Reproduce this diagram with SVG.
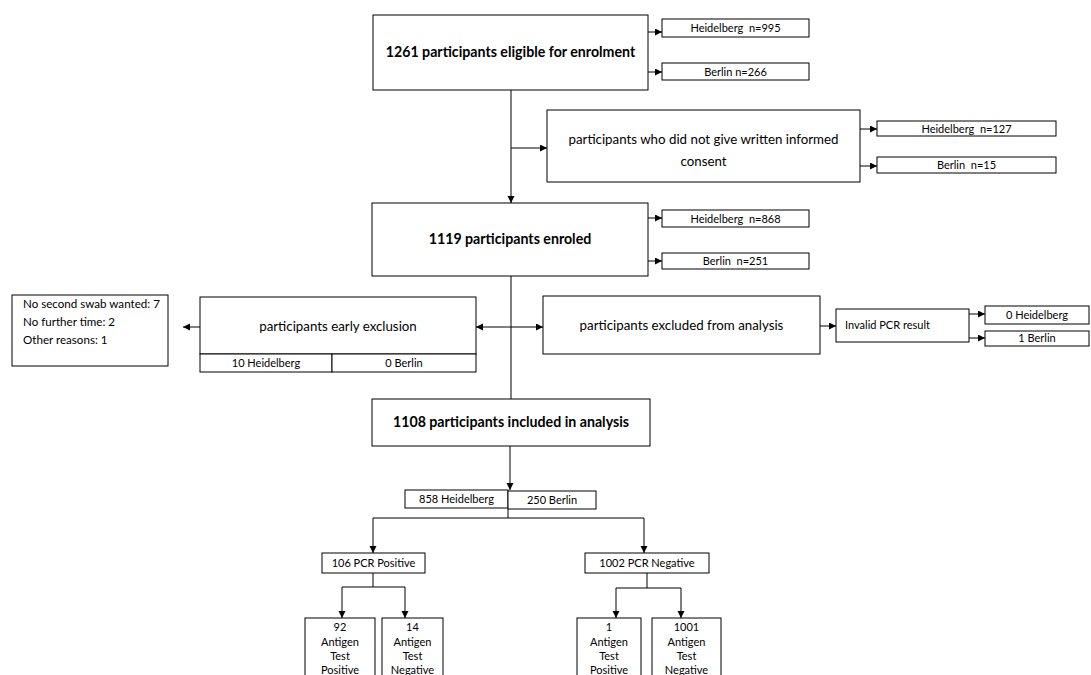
<svg xmlns="http://www.w3.org/2000/svg" width="1091" height="675" viewBox="0 0 1091 675">
<style>
.b{fill:#fff;stroke:#000;stroke-width:1}
.t{font-family:Lato,"Open Sans",sans-serif;fill:#000;text-anchor:middle;white-space:pre}
.bold{font-weight:bold;font-size:14.2px}
.big{font-size:13.3px}
.sm{font-size:11px}
.rs{font-size:11.6px}
.l{text-anchor:start}
.c{fill:none;stroke:#000;stroke-width:1}
.a{marker-end:url(#ah)}
</style>
<defs>
<marker id="ah" markerWidth="8" markerHeight="8" refX="7" refY="3.5" orient="auto" markerUnits="userSpaceOnUse">
<path d="M0,0 L7,3.5 L0,7 z" fill="#000"/>
</marker>
</defs>
<rect width="1091" height="675" fill="#fff"/>
<g id="connectors">
<path class="c a" d="M648,32 H662"/>
<path class="c a" d="M648,72 H662"/>
<path class="c a" d="M511,90 V203"/>
<path class="c a" d="M511,148 H547"/>
<path class="c a" d="M860,129 H877"/>
<path class="c a" d="M860,166 H877"/>
<path class="c a" d="M648,218 H662"/>
<path class="c a" d="M648,261 H662"/>
<path class="c" d="M511,276 V399"/>
<path class="c a" d="M511,327 H476"/>
<path class="c a" d="M511,327 H543"/>
<path class="c a" d="M200,327 H183"/>
<path class="c a" d="M820,326 H836"/>
<path class="c a" d="M969,314 H985"/>
<path class="c a" d="M969,338 H985"/>
<path class="c a" d="M510,446 V490"/>
<path class="c" d="M508,509 V518 M373,518 H644"/>
<path class="c a" d="M373,518 V553"/>
<path class="c a" d="M644,518 V553"/>
<path class="c" d="M373,573 V587 M342,587 H405"/>
<path class="c a" d="M342,587 V618"/>
<path class="c a" d="M405,587 V618"/>
<path class="c" d="M647,573 V588 M616,588 H681"/>
<path class="c a" d="M616,588 V618"/>
<path class="c a" d="M681,588 V618"/>
</g>
<g id="eligible">
<rect class="b" x="373" y="15" width="275" height="75"/>
<text class="t bold" x="510.5" y="57">1261 participants eligible for enrolment</text>
</g>
<g id="elig-heidelberg">
<rect class="b" x="662" y="19" width="147" height="18"/>
<text class="t sm" x="735.5" y="32" xml:space="preserve">Heidelberg  n=995</text>
</g>
<g id="elig-berlin">
<rect class="b" x="662" y="63" width="147" height="17"/>
<text class="t sm" x="735.5" y="75.5">Berlin n=266</text>
</g>
<g id="no-consent">
<rect class="b" x="547" y="110" width="313" height="72"/>
<text class="t big" x="703.5" y="144">participants who did not give written informed</text>
<text class="t big" x="703.5" y="166">consent</text>
</g>
<g id="nc-heidelberg">
<rect class="b" x="877" y="121" width="179" height="15"/>
<text class="t sm" x="966.5" y="132.5" xml:space="preserve">Heidelberg  n=127</text>
</g>
<g id="nc-berlin">
<rect class="b" x="877" y="157" width="179" height="16"/>
<text class="t sm" x="966.5" y="169" xml:space="preserve">Berlin  n=15</text>
</g>
<g id="enroled">
<rect class="b" x="372" y="203" width="276" height="73"/>
<text class="t bold" x="510" y="244">1119 participants enroled</text>
</g>
<g id="enr-heidelberg">
<rect class="b" x="662" y="210" width="147" height="17"/>
<text class="t sm" x="735.5" y="222.5" xml:space="preserve">Heidelberg  n=868</text>
</g>
<g id="enr-berlin">
<rect class="b" x="662" y="253" width="147" height="16"/>
<text class="t sm" x="735.5" y="265" xml:space="preserve">Berlin  n=251</text>
</g>
<g id="reasons">
<rect class="b" x="12" y="295" width="156" height="71"/>
<text class="t rs l" x="23" y="308">No second swab wanted: 7</text>
<text class="t rs l" x="23" y="326">No further time: 2</text>
<text class="t rs l" x="23" y="344">Other reasons: 1</text>
</g>
<g id="early-exclusion">
<rect class="b" x="200" y="297" width="276" height="57"/>
<text class="t big" x="338" y="331">participants early exclusion</text>
<rect class="b" x="200" y="354" width="132" height="18"/>
<rect class="b" x="332" y="354" width="144" height="18"/>
<text class="t sm" x="266" y="367">10 Heidelberg</text>
<text class="t sm" x="404" y="367">0 Berlin</text>
</g>
<g id="excluded-analysis">
<rect class="b" x="543" y="296" width="277" height="58"/>
<text class="t big" x="681.5" y="330">participants excluded from analysis</text>
</g>
<g id="invalid-pcr">
<rect class="b" x="836" y="309" width="133" height="33"/>
<text class="t sm l" x="845" y="329">Invalid PCR result</text>
</g>
<g id="inv-heidelberg">
<rect class="b" x="985" y="306" width="104" height="18"/>
<text class="t sm" x="1037" y="319">0 Heidelberg</text>
</g>
<g id="inv-berlin">
<rect class="b" x="985" y="331" width="104" height="15"/>
<text class="t sm" x="1037" y="342">1 Berlin</text>
</g>
<g id="included">
<rect class="b" x="372" y="399" width="278" height="47"/>
<text class="t bold" x="511" y="427">1108 participants included in analysis</text>
</g>
<g id="inc-split">
<rect class="b" x="405" y="490" width="103" height="18"/>
<rect class="b" x="508" y="491" width="88" height="18"/>
<text class="t sm" x="456.5" y="503">858 Heidelberg</text>
<text class="t sm" x="552" y="504">250 Berlin</text>
</g>
<g id="pcr-positive">
<rect class="b" x="322" y="553" width="103" height="20"/>
<text class="t sm" x="373.5" y="567">106 PCR Positive</text>
</g>
<g id="pcr-negative">
<rect class="b" x="585" y="553" width="124" height="20"/>
<text class="t sm" x="647" y="567">1002 PCR Negative</text>
</g>
<g id="pos-pos">
<rect class="b" x="305" y="618" width="70" height="70"/>
<text class="t sm" x="340" y="631">92</text>
<text class="t sm" x="340" y="645.5">Antigen</text>
<text class="t sm" x="340" y="660">Test</text>
<text class="t sm" x="340" y="674">Positive</text>
</g>
<g id="pos-neg">
<rect class="b" x="382" y="618" width="61" height="70"/>
<text class="t sm" x="412.5" y="631">14</text>
<text class="t sm" x="412.5" y="645.5">Antigen</text>
<text class="t sm" x="412.5" y="660">Test</text>
<text class="t sm" x="412.5" y="674">Negative</text>
</g>
<g id="neg-pos">
<rect class="b" x="577" y="618" width="64" height="70"/>
<text class="t sm" x="609" y="631">1</text>
<text class="t sm" x="609" y="645.5">Antigen</text>
<text class="t sm" x="609" y="660">Test</text>
<text class="t sm" x="609" y="674">Positive</text>
</g>
<g id="neg-neg">
<rect class="b" x="652" y="618" width="69" height="70"/>
<text class="t sm" x="686.5" y="631">1001</text>
<text class="t sm" x="686.5" y="645.5">Antigen</text>
<text class="t sm" x="686.5" y="660">Test</text>
<text class="t sm" x="686.5" y="674">Negative</text>
</g>
</svg>
